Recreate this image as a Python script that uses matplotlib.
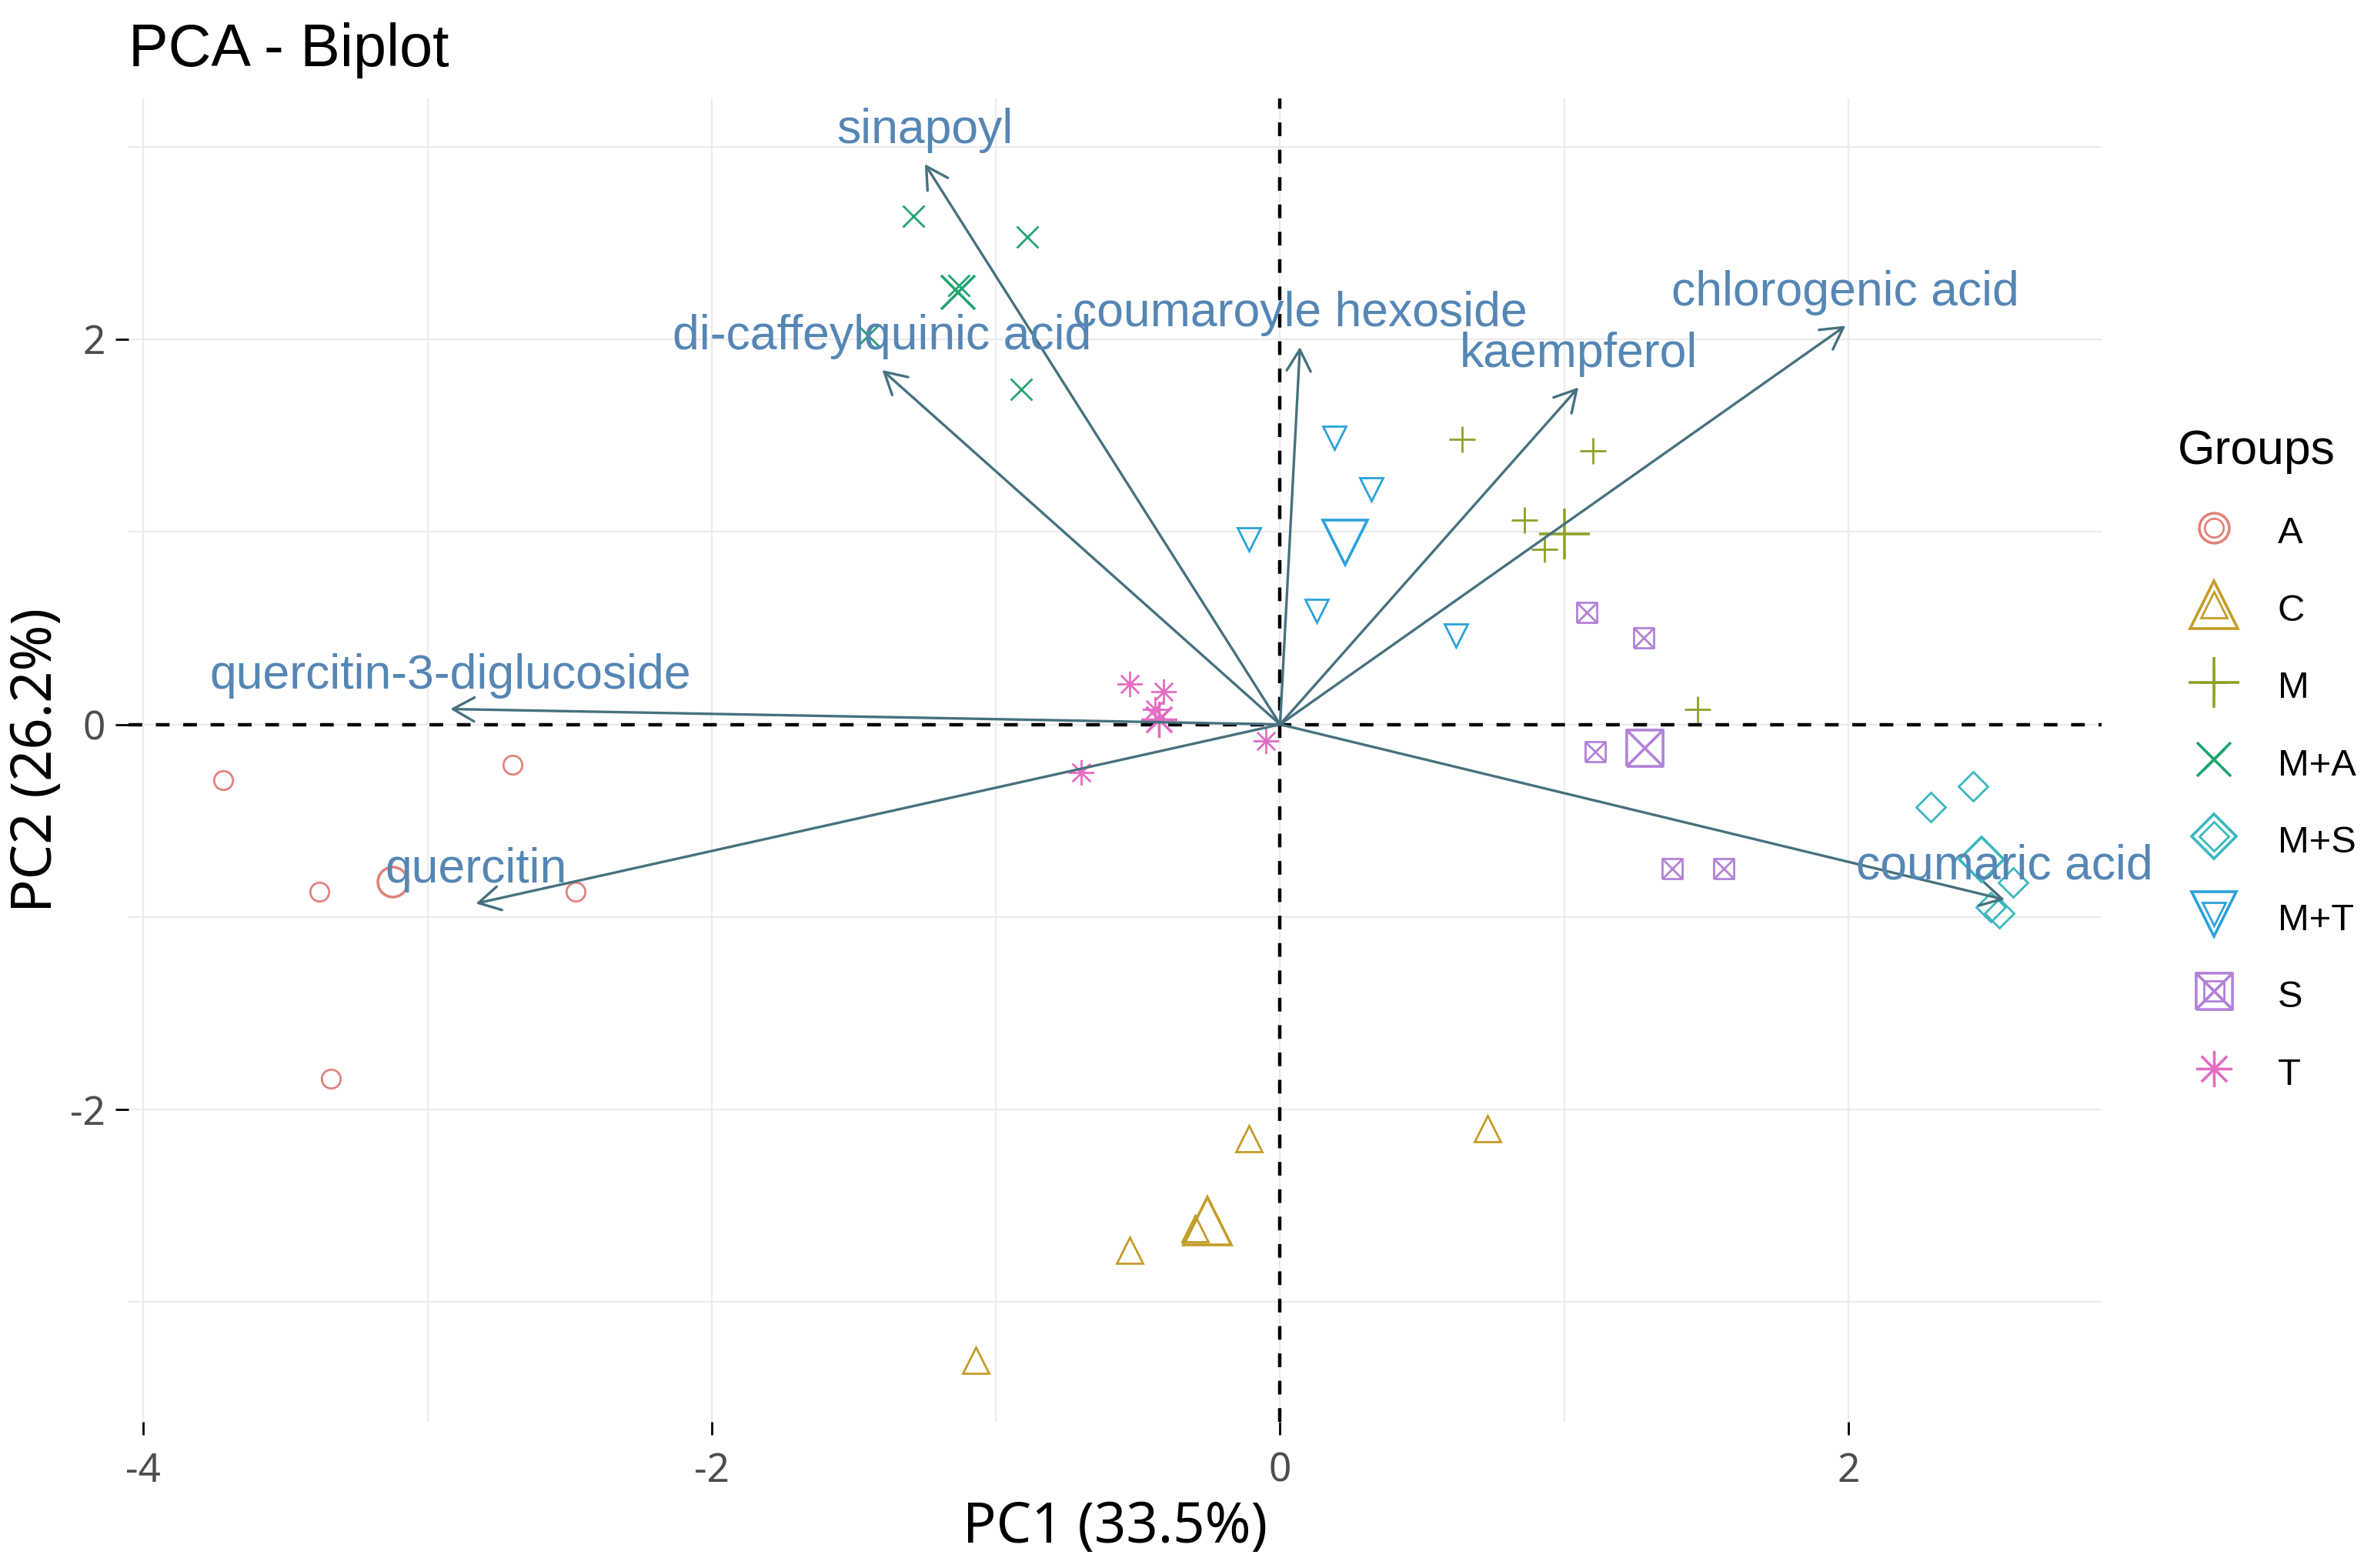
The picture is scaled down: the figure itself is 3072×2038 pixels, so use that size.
import numpy as np
import matplotlib
matplotlib.use('Agg')
import matplotlib.pyplot as plt
from matplotlib.path import Path
from matplotlib.lines import Line2D
from matplotlib.legend_handler import HandlerTuple

plt.rcParams['font.family'] = ['Noto Sans', 'DejaVu Sans']
plt.rcParams['axes.unicode_minus'] = False

# individuals (PC1, PC2) by group
groups = ['A', 'C', 'M', 'M+A', 'M+S', 'M+T', 'S', 'T']
pc1 = {
    'A':   [-3.72, -2.70, -3.38, -2.48, -3.34],
    'C':   [-0.11, 0.73, -0.53, -0.30, -1.07],
    'M':   [0.64, 1.10, 0.86, 0.93, 1.47],
    'M+A': [-1.29, -0.89, -0.91, -1.45, -1.13],
    'M+S': [2.44, 2.29, 2.58, 2.50, 2.53],
    'M+T': [0.19, 0.32, -0.11, 0.13, 0.62],
    'S':   [1.08, 1.28, 1.11, 1.38, 1.56],
    'T':   [-0.53, -0.41, -0.44, -0.05, -0.70],
}
pc2 = {
    'A':   [-0.29, -0.21, -0.87, -0.87, -1.84],
    'C':   [-2.15, -2.10, -2.73, -2.62, -3.30],
    'M':   [1.48, 1.42, 1.06, 0.91, 0.08],
    'M+A': [2.64, 2.53, 1.74, 2.02, 2.28],
    'M+S': [-0.32, -0.43, -0.82, -0.95, -0.98],
    'M+T': [1.49, 1.22, 0.96, 0.59, 0.46],
    'S':   [0.58, 0.45, -0.14, -0.75, -0.75],
    'T':   [0.21, 0.17, 0.08, -0.085, -0.25],
}

# variables (arrow tips)
var_names = ['sinapoyl', 'di-caffeylquinic acid', 'coumaroyle hexoside', 'kaempferol',
             'chlorogenic acid', 'coumaric acid', 'quercitin', 'quercitin-3-diglucoside']
var_x = [-1.25, -1.40, 0.07, 1.05, 1.99, 2.55, -2.83, -2.92]
var_y = [2.91, 1.84, 1.96, 1.75, 2.07, -0.91, -0.93, 0.08]

colors = {'A': '#E0837C', 'C': '#C49C28', 'M': '#8CA228', 'M+A': '#22A46E',
          'M+S': '#38B8BE', 'M+T': '#2AA2DC', 'S': '#B282D8', 'T': '#E46CC2'}

MV, LT = Path.MOVETO, Path.LINETO
sq_x = Path([(-1, -1), (1, -1), (1, 1), (-1, 1), (-1, -1), (-1, -1), (1, 1), (-1, 1), (1, -1)],
            [MV, LT, LT, LT, LT, MV, LT, MV, LT])
d = 0.7071
aster = Path([(-1, 0), (1, 0), (0, -1), (0, 1), (-d, -d), (d, d), (-d, d), (d, -d)],
             [MV, LT, MV, LT, MV, LT, MV, LT])

# marker, small size, mean-point size
shapes = {'A': ('o', 8.8, 14), 'C': ('^', 12, 22), 'M': ('+', 12, 24), 'M+A': ('x', 10, 16),
          'M+S': ('D', 9.5, 15), 'M+T': ('v', 11, 21), 'S': (sq_x, 9.4, 17), 'T': (aster, 12, 17)}

fig = plt.figure(figsize=(15.36, 10.19), dpi=200)
ax = fig.add_axes([0.0544, 0.0934, 0.8346, 0.844])

ax.set_xlim(-4.052, 2.891)
ax.set_ylim(-3.62, 3.252)
ax.set_xticks([-4, -2, 0, 2])
ax.set_xticks([-3, -1, 1], minor=True)
ax.set_yticks([-2, 0, 2])
ax.set_yticks([-3, -1, 1, 3], minor=True)
ax.grid(which='both', color='#EBEBEB', lw=0.8)
ax.set_axisbelow(True)
for s in ax.spines.values():
    s.set_visible(False)
ax.tick_params(which='major', length=6, width=1.0, color='black', labelcolor='#4D4D4D', labelsize=18.5)
ax.tick_params(axis='x', pad=8)
ax.tick_params(axis='y', pad=5)
ax.tick_params(which='minor', length=0)

ax.axhline(0, color='black', ls=(0, (4, 4)), lw=1.6, zorder=1.5)
ax.axvline(0, color='black', ls=(0, (4, 4)), lw=1.6, zorder=1.5)

handles = []
for g in groups:
    m, s1, s2 = shapes[g]
    c = colors[g]
    ax.plot(pc1[g], pc2[g], ls='none', marker=m, ms=s1, mfc='none', mec=c, mew=1.0, zorder=3)
    ax.plot(np.mean(pc1[g]), np.mean(pc2[g]), ls='none', marker=m, ms=s2, mfc='none', mec=c, mew=1.3, zorder=3)
    h1 = Line2D([], [], ls='none', marker=m, ms=s1, mfc='none', mec=c, mew=1.0)
    h2 = Line2D([], [], ls='none', marker=m, ms=s2, mfc='none', mec=c, mew=1.3)
    handles.append((h1, h2))

arrow_col = '#46717F'
label_col = '#5586B4'
for name, vx, vy in zip(var_names, var_x, var_y):
    ax.annotate('', xy=(vx, vy), xytext=(0, 0),
                arrowprops=dict(arrowstyle='->,head_length=0.5,head_width=0.28', color=arrow_col,
                                lw=1.2, shrinkA=0, shrinkB=0, mutation_scale=20), zorder=4)
    ax.annotate(name, xy=(vx, vy), xytext=(0, 5), textcoords='offset points', ha='center', va='bottom',
                fontsize=22.5, color=label_col, family='Liberation Sans', zorder=5)

ax.set_xlabel('PC1 (33.5%)', fontsize=26, labelpad=4)
ax.set_ylabel('PC2 (26.2%)', fontsize=26, labelpad=2)
ax.set_title('PCA - Biplot', loc='left', fontsize=27.8, family='Liberation Sans', pad=15)

fig.legend(handles, groups, title='Groups', loc='upper left', bbox_to_anchor=(0.9212, 0.7267),
           frameon=False, borderpad=0, borderaxespad=0, handlelength=1.92, handleheight=1.2,
           handletextpad=0.74, labelspacing=1.0, alignment='left',
           prop=dict(family='Liberation Sans', size=17.6),
           title_fontproperties=dict(family='Liberation Sans', size=22.5),
           handler_map={tuple: HandlerTuple(ndivide=1)})

fig.savefig('out.png', dpi=200)
